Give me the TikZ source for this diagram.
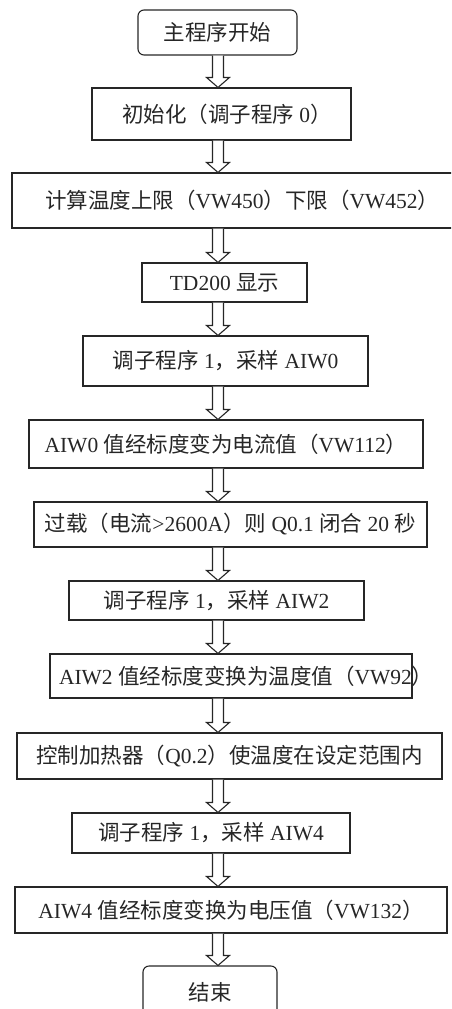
\documentclass[tikz,border=0pt]{standalone}
\usepackage{fontspec}
\setmainfont{Liberation Serif}
\newfontfamily\cjk{Noto Sans CJK SC}
\usetikzlibrary{calc}
\newcommand\zh[1]{{\cjk #1}}
\newcommand\flowarrow[2]{%
  \draw[flowarr] let \p1=(#1.south -| ax), \p2=(#2.north -| ax) in
    (\x1-5.5pt,\y1) -- (\x1-5.5pt,\y2+10pt) -- (\x1-11.5pt,\y2+10pt) -- (\x1,\y2)
    -- (\x1+11.5pt,\y2+10pt) -- (\x1+5.5pt,\y2+10pt) -- (\x1+5.5pt,\y1);}
\begin{document}
\begin{tikzpicture}[x=1pt,y=-1pt,
  box/.style={draw=black!85,line width=1.1pt,inner sep=0pt,
    font=\fontsize{21.5}{24}\selectfont,text=black!85},
  roundbox/.style={box,rounded corners=6pt},
  flowarr/.style={draw=black!85,line width=1.1pt,line join=miter,fill=white}]
\useasboundingbox (0,0) rectangle (451,1009);
\clip (0,0) rectangle (451,1009);
\coordinate (ax) at (218,0);

\node[roundbox,minimum width=159pt,minimum height=45pt] (b1) at (217.5,32.5) {\zh{主程序开始}};
\node[box,minimum width=259pt,minimum height=52pt] (b2) at (221.5,114) {\makebox[259pt][l]{\hspace{30pt}\zh{初始化（调子程序} 0\zh{）}}};
\node[box,minimum width=458pt,minimum height=55pt] (b3) at (241,200.5) {\makebox[430pt][l]{\hspace{19pt}\zh{计算温度上限（}VW450\zh{）下限（}VW452\zh{）}}};
\node[box,minimum width=165pt,minimum height=39pt] (b4) at (224.5,282.5) {TD200 \zh{显示}};
\node[box,minimum width=285pt,minimum height=50pt] (b5) at (225.5,361) {\zh{调子程序} 1\zh{，采样} AIW0};
\node[box,minimum width=394pt,minimum height=48pt] (b6) at (226,444) {AIW0 \zh{值经标度变为电流值（}VW112\zh{）}};
\node[box,minimum width=393pt,minimum height=45pt] (b7) at (230.5,524.5) {\zh{过载（电流}>2600A\zh{）则} Q0.1 \zh{闭合} 20 \zh{秒}};
\node[box,minimum width=295pt,minimum height=39pt] (b8) at (216.5,600.5) {\zh{调子程序} 1\zh{，采样} AIW2};
\node[box,minimum width=362pt,minimum height=44pt] (b9) at (231,676) {\makebox[362pt][l]{\hspace{9pt}AIW2 \zh{值经标度变换为温度值（}VW92\zh{）}}};
\node[box,minimum width=425pt,minimum height=46pt] (b10) at (229.5,756) {\zh{控制加热器（}Q0.2\zh{）使温度在设定范围内}};
\node[box,minimum width=278pt,minimum height=40pt] (b11) at (211,833) {\zh{调子程序} 1\zh{，采样} AIW4};
\node[box,minimum width=432pt,minimum height=46pt] (b12) at (231,910) {AIW4 \zh{值经标度变换为电压值（}VW132\zh{）}};
\node[roundbox,minimum width=134pt,minimum height=52pt] (b13) at (210,992) {\zh{结束}};

\flowarrow{b1}{b2}
\flowarrow{b2}{b3}
\flowarrow{b3}{b4}
\flowarrow{b4}{b5}
\flowarrow{b5}{b6}
\flowarrow{b6}{b7}
\flowarrow{b7}{b8}
\flowarrow{b8}{b9}
\flowarrow{b9}{b10}
\flowarrow{b10}{b11}
\flowarrow{b11}{b12}
\flowarrow{b12}{b13}
\end{tikzpicture}
\end{document}
